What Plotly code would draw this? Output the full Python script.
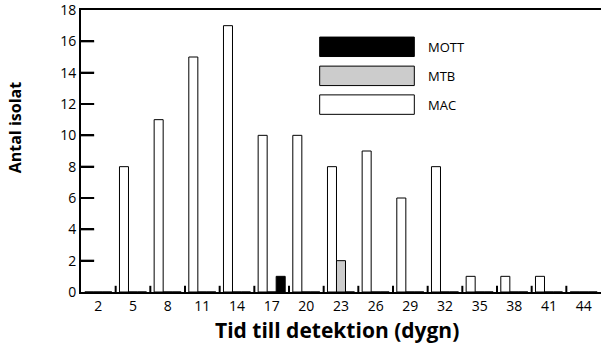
import plotly.graph_objects as go

days = ["2", "5", "8", "11", "14", "17", "20", "23", "26", "29", "32", "35", "38", "41", "44"]
mac = [0, 8, 11, 15, 17, 10, 10, 8, 9, 6, 8, 1, 1, 1, 0]
mtb = [0, 0, 0, 0, 0, 0, 0, 2, 0, 0, 0, 0, 0, 0, 0]
mott = [0, 0, 0, 0, 0, 1, 0, 0, 0, 0, 0, 0, 0, 0, 0]
y_ticks = [0, 2, 4, 6, 8, 10, 12, 14, 16, 18]
y_max = 18

font = "Open Sans"

fig = go.Figure()
fig.add_trace(go.Bar(x=days, y=mac, name="MAC", marker=dict(color="white", line=dict(color="black", width=1))))
fig.add_trace(go.Bar(x=days, y=mtb, name="MTB", marker=dict(color="#cccccc", line=dict(color="black", width=1))))
fig.add_trace(go.Bar(x=days, y=mott, name="MOTT", marker=dict(color="black", line=dict(color="black", width=1))))

# legend drawn as boxes + labels
legend_items = [("MOTT", "black"), ("MTB", "#cccccc"), ("MAC", "white")]
y_tops = [0.904, 0.801, 0.699]
box_h = 0.069
for (name, col), yt in zip(legend_items, y_tops):
    fig.add_shape(type="rect", xref="paper", yref="paper", x0=0.459, x1=0.641, y0=yt - box_h, y1=yt,
                  fillcolor=col, line=dict(color="black", width=1))
    fig.add_annotation(xref="paper", yref="paper", x=0.664, y=yt - box_h / 2, text=name, showarrow=False,
                       xanchor="left", yanchor="middle", font=dict(family=font, size=13, color="black"))

# tick marks (inside) drawn on the axes
for v in y_ticks[1:-1]:
    fig.add_shape(type="line", xref="x", yref="y", x0=-0.5, x1=-0.12, y0=v, y1=v,
                  line=dict(color="black", width=2), layer="above")
for i in range(len(days) - 1):
    fig.add_shape(type="line", xref="x", yref="paper", x0=i + 0.5, x1=i + 0.5, y0=0, y1=0.022,
                  line=dict(color="black", width=2))

# axis titles
fig.add_annotation(xref="paper", yref="paper", x=0.493, y=-0.135, text="<b>Tid till detektion (dygn)</b>",
                   showarrow=False, xanchor="center", yanchor="middle",
                   font=dict(family=font, size=21, color="black"))
fig.add_annotation(xref="paper", yref="paper", x=-0.128, y=0.582, text="<b>Antal isolat</b>", textangle=-90,
                   showarrow=False, xanchor="center", yanchor="middle",
                   font=dict(family=font, size=16, color="black"))

fig.update_layout(
    template="none",
    width=601, height=343,
    margin=dict(l=81, r=0, t=10, b=51, autoexpand=False),
    paper_bgcolor="white", plot_bgcolor="white",
    barmode="group", bargap=0.22, bargroupgap=0,
    showlegend=False,
    font=dict(family=font, size=14, color="black"),
)
fig.update_xaxes(
    type="category", range=[-0.5, 14.5], automargin=False,
    showline=True, linecolor="black", linewidth=2, mirror=True,
    ticks="", showgrid=False, zeroline=False,
)
fig.update_yaxes(
    range=[0, y_max], tickmode="array", tickvals=y_ticks, automargin=False,
    showline=True, linecolor="black", linewidth=2,
    ticks="inside", ticklen=13, tickwidth=2, tickcolor="black",
    showgrid=False, zeroline=False, ticklabeloverflow="allow",
)

fig.write_html("out.html", config={"displayModeBar": False},
               post_script="document.body.style.margin='0';document.body.style.overflow='hidden';")
